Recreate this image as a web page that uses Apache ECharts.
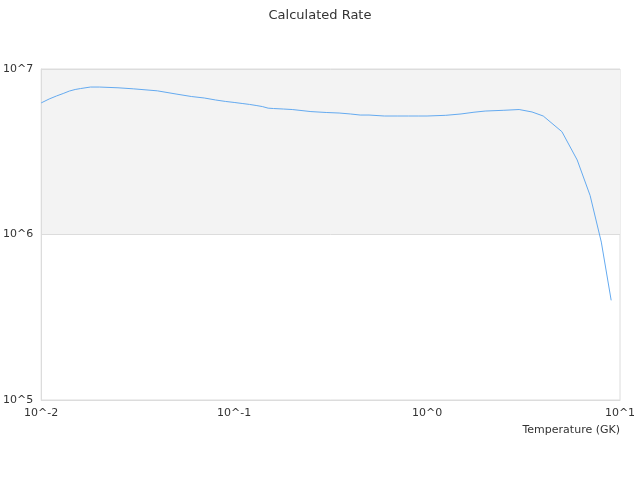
<!DOCTYPE html>
<html>
<head>
<meta charset="utf-8">
<script src="https://cdn.jsdelivr.net/npm/echarts@6/dist/echarts.min.js"></script>
<style>html,body{margin:0;padding:0;background:#fff;}#c{width:640px;height:480px;}</style>
</head>
<body>
<div id="c"></div>
<script>
const temperatures = [0.01, 0.011, 0.012, 0.013, 0.014, 0.015, 0.016, 0.018, 0.02, 0.025, 0.03, 0.04, 0.05, 0.06, 0.07, 0.08, 0.09, 0.1, 0.11, 0.12, 0.13, 0.14, 0.15, 0.16, 0.18, 0.2, 0.25, 0.3, 0.35, 0.4, 0.45, 0.5, 0.6, 0.7, 0.8, 0.9, 1.0, 1.25, 1.5, 1.75, 2.0, 2.5, 3.0, 3.5, 4.0, 5.0, 6.0, 7.0, 8.0, 9.0];
const rates = [6.24e6, 6.59e6, 6.87e6, 7.11e6, 7.36e6, 7.52e6, 7.62e6, 7.78e6, 7.78e6, 7.70e6, 7.59e6, 7.38e6, 7.06e6, 6.82e6, 6.68e6, 6.50e6, 6.37e6, 6.28e6, 6.19e6, 6.11e6, 6.02e6, 5.93e6, 5.80e6, 5.77e6, 5.73e6, 5.69e6, 5.53e6, 5.46e6, 5.42e6, 5.35e6, 5.27e6, 5.27e6, 5.20e6, 5.20e6, 5.20e6, 5.20e6, 5.20e6, 5.25e6, 5.35e6, 5.48e6, 5.57e6, 5.63e6, 5.69e6, 5.50e6, 5.20e6, 4.18e6, 2.82e6, 1.72e6, 9.0e5, 4.0e5];
const titleText = 'Calculated Rate';
const xAxisName = 'Temperature (GK)';

const chart = echarts.init(document.getElementById('c'), null, {renderer: 'canvas'});
const fmt = v => '10^' + Math.round(Math.log10(v));
const font = 'DejaVu Sans';
chart.setOption({
  animation: false,
  title: {
    text: titleText, left: 'center', top: 4,
    textStyle: {fontFamily: font, fontSize: 13, fontWeight: 'normal', color: '#333'}
  },
  grid: {left: 40, right: 20, top: 69, bottom: 80, show: true, borderColor: '#dcdcdc', borderWidth: 1, backgroundColor: 'transparent'},
  xAxis: {
    type: 'log', min: 0.01, max: 10, logBase: 10,
    name: xAxisName, nameLocation: 'end', nameGap: 0,
    nameTextStyle: {fontFamily: font, fontSize: 11, color: '#333', align: 'right', verticalAlign: 'top', padding: [25, 0, 0, 0]},
    axisLine: {lineStyle: {color: '#dcdcdc'}},
    axisTick: {show: false},
    axisLabel: {formatter: fmt, fontFamily: font, fontSize: 11, color: '#333', margin: 8},
    splitLine: {show: false},
    minorTick: {show: false}
  },
  yAxis: {
    type: 'log', min: 1e5, max: 1e7, logBase: 10,
    axisLine: {show: true, lineStyle: {color: '#dcdcdc'}},
    axisTick: {show: false},
    axisLabel: {formatter: fmt, fontFamily: font, fontSize: 11, color: '#333', margin: 8},
    splitLine: {show: true, lineStyle: {color: '#dcdcdc'}},
    splitArea: {show: true, areaStyle: {color: ['rgba(255,255,255,0)', '#f3f3f3']}}
  },
  series: [{
    type: 'line',
    data: temperatures.map((t, i) => [t, rates[i]]),
    showSymbol: false,
    lineStyle: {color: '#64aaf0', width: 1},
    itemStyle: {color: '#64aaf0'}
  }]
});
</script>
</body>
</html>
